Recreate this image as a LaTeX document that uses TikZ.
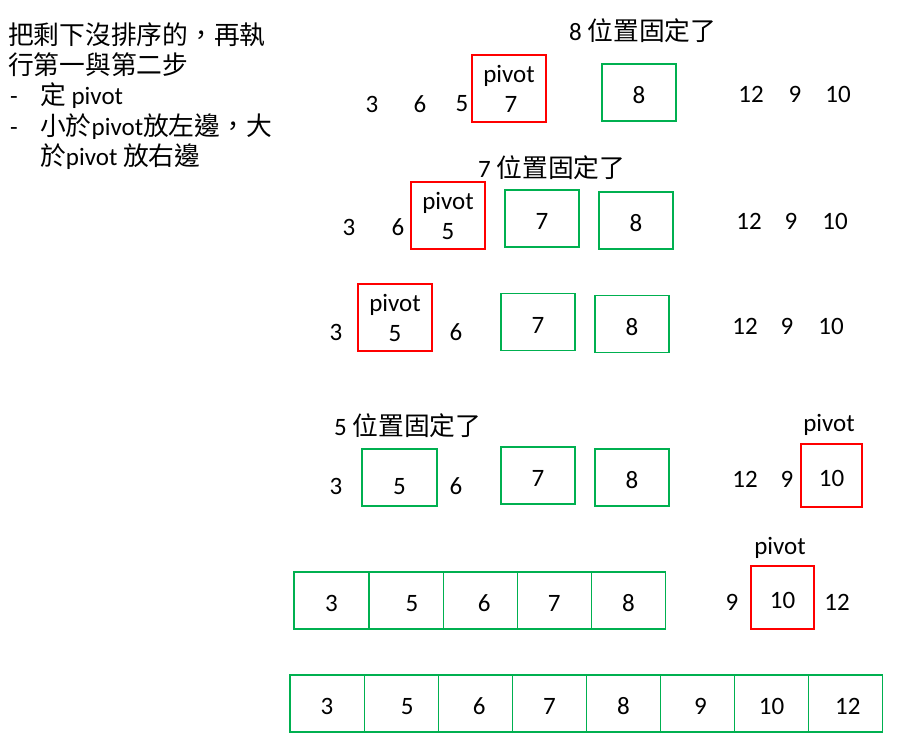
\documentclass[tikz,border=0pt]{standalone}
\usepackage{fontspec}
\setmainfont{Carlito}
\newfontfamily\cjk{Noto Sans CJK TC}[Scale=1.03]
\definecolor{pivotred}{HTML}{FF0000}
\definecolor{fixedgreen}{HTML}{00B050}
\begin{document}
\begin{tikzpicture}[x=1pt,y=-1pt,
    every node/.style={font=\fontsize{25}{30}\selectfont, inner sep=0pt},
    pivotbox/.style={draw=pivotred, line width=1.2pt, minimum width=74pt, minimum height=67pt, align=center},
    fixedbox/.style={draw=fixedgreen, line width=1.2pt, minimum width=74pt, minimum height=57pt, text height=22pt, text depth=0pt},
    cell/.style={fixedbox, minimum width=74.1pt, outer sep=0pt, anchor=west}]
    \useasboundingbox (0,0) rectangle (901,745);

    % steps on the left
    \node[anchor=base west] (stepa) at (8,44) {\cjk 把剩下沒排序的，再執};
    \node[anchor=base west] (stepb) at (8,74) {\cjk 行第一與第二步};
    \node[anchor=base west] (dasha) at (10,104) {-};
    \node[anchor=base west] (stepc) at (40,104) {{\cjk 定} pivot};
    \node[anchor=base west] (dashb) at (10,135) {-};
    \node[anchor=base west] (stepd) at (40,135) {{\cjk 小於}pivot{\cjk 放左邊，大}};
    \node[anchor=base west] (stepe) at (40,165) {{\cjk 於}pivot {\cjk 放右邊}};

    % row 1
    \node[anchor=base west] (fixeight) at (569,40) {8 {\cjk 位置固定了}};
    \node (ra3) at (372,104) {3};
    \node (ra6) at (420,104) {6};
    \node (ra5) at (462,104) {5};
    \node[pivotbox] (ra7) at (509,88.5) {pivot\\\hspace{4pt}7};
    \node[fixedbox] (ra8) at (639,92.5) {8};
    \node (ra12) at (751,94) {12};
    \node (ra9) at (795,94) {9};
    \node (ra10) at (838,94) {10};

    % row 2
    \node[anchor=base west] (fixseven) at (478,177) {7 {\cjk 位置固定了}};
    \node (rb3) at (349,227) {3};
    \node (rb6) at (398,227) {6};
    \node[pivotbox] (rb5) at (448,215.5) {pivot\\5};
    \node[fixedbox] (rb7) at (542,218.5) {7};
    \node[fixedbox] (rb8) at (636,220.5) {8};
    \node (rb12) at (749,221) {12};
    \node (rb9) at (791,221) {9};
    \node (rb10) at (835,221) {10};

    % row 3
    \node (rc3) at (336,332) {3};
    \node[pivotbox] (rc5) at (395,317.5) {pivot\\5};
    \node (rc6) at (456,332) {6};
    \node[fixedbox] (rc7) at (538,322) {7};
    \node[fixedbox] (rc8) at (632,324) {8};
    \node (rc12) at (745,326) {12};
    \node (rc9) at (787,326) {9};
    \node (rc10) at (831,326) {10};

    % row 4
    \node[anchor=base west] (fixfive) at (334,435) {5 {\cjk 位置固定了}};
    \node (rd3) at (336,486) {3};
    \node[fixedbox, minimum width=75pt, text height=33pt] (rd5) at (399.5,477.5) {5};
    \node (rd6) at (456,486) {6};
    \node[fixedbox] (rd7) at (538,475.5) {7};
    \node[fixedbox] (rd8) at (632,477.5) {8};
    \node (rd12) at (745,479) {12};
    \node (rd9) at (787,479) {9};
    \node[pivotbox, minimum width=61pt, minimum height=63pt, text height=22pt, text depth=0pt] (rd10) at (831.5,475.5) {10};
    \node (rdpivot) at (829,425) {pivot};

    % row 5
    \node[cell, minimum width=75pt] (re3) at (294,600.5) {3};
    \node[cell] (re5) at (re3.east) {\hspace{12pt}5};
    \node[cell] (re6) at (re5.east) {\hspace{8pt}6};
    \node[cell] (re7) at (re6.east) {7};
    \node[cell] (re8) at (re7.east) {8};
    \node (re9) at (732,602) {9};
    \node[pivotbox, minimum width=63pt, minimum height=63pt, text height=22pt, text depth=0pt] (re10) at (782.5,597.5) {10};
    \node (re12) at (837,602) {12};
    \node (repivot) at (780,548) {pivot};

    % row 6
    \node[cell] (rf3) at (290,703.5) {3};
    \node[cell] (rf5) at (rf3.east) {\hspace{12pt}5};
    \node[cell] (rf6) at (rf5.east) {\hspace{8pt}6};
    \node[cell] (rf7) at (rf6.east) {7};
    \node[cell] (rf8) at (rf7.east) {8};
    \node[cell] (rf9) at (rf8.east) {\hspace{6pt}9};
    \node[cell] (rf10) at (rf9.east) {10};
    \node[cell] (rf12) at (rf10.east) {\hspace{4pt}12};
\end{tikzpicture}
\end{document}
